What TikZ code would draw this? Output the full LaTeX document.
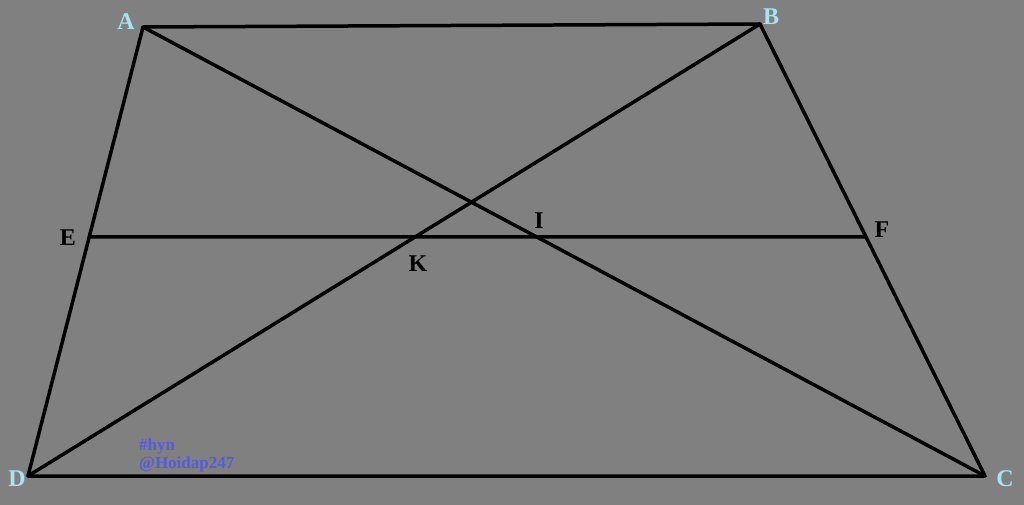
\documentclass[tikz,border=0pt]{standalone}
\usepackage{fontspec}
\setmainfont{Liberation Serif}
\usetikzlibrary{calc}
\definecolor{bggray}{RGB}{128,128,128}
\definecolor{ptblue}{RGB}{165,228,240}
\definecolor{markblue}{RGB}{85,90,225}
\tikzset{
    seg/.style={line width=3.5pt,line cap=round,line join=round},
    vlbl/.style={text=ptblue,font=\fontsize{24}{24}\selectfont\bfseries,inner sep=0pt},
    mlbl/.style={text=black,font=\fontsize{24}{24}\selectfont\bfseries,inner sep=0pt}
}
\begin{document}
\begin{tikzpicture}[x=1pt,y=-1pt]
\fill[bggray] (0,0) rectangle (1024,505);
\useasboundingbox (0,0) rectangle (1024,505);
\coordinate (A) at (143,27);
\coordinate (B) at (760,24);
\coordinate (C) at (985,476);
\coordinate (D) at (28,476);
\coordinate (E) at ($(A)!0.4677!(D)$);
\coordinate (F) at ($(B)!0.4712!(C)$);
\coordinate (K) at (intersection of B--D and E--F);
\coordinate (I) at (intersection of A--C and E--F);
\draw[seg] (A) -- (B) -- (C) -- (D) -- cycle;
\draw[seg] (A) -- (C);
\draw[seg] (B) -- (D);
\draw[seg] (E) -- (F);
\node[vlbl] (lA) at (126,22) {A};
\node[vlbl] (lB) at (771,17) {B};
\node[vlbl] (lC) at (1005,479) {C};
\node[vlbl] (lD) at (17,479) {D};
\node[mlbl] (lE) at (68,238) {E};
\node[mlbl] (lF) at (882,230) {F};
\node[mlbl] (lK) at (418,264) {K};
\node[mlbl] (lI) at (539,221) {I};
\node[text=markblue,font=\fontsize{17}{18}\selectfont\bfseries,align=left,anchor=north west,inner sep=0pt] (wm) at (139,438) {\#hyn\\@Hoidap247};
\end{tikzpicture}
\end{document}
